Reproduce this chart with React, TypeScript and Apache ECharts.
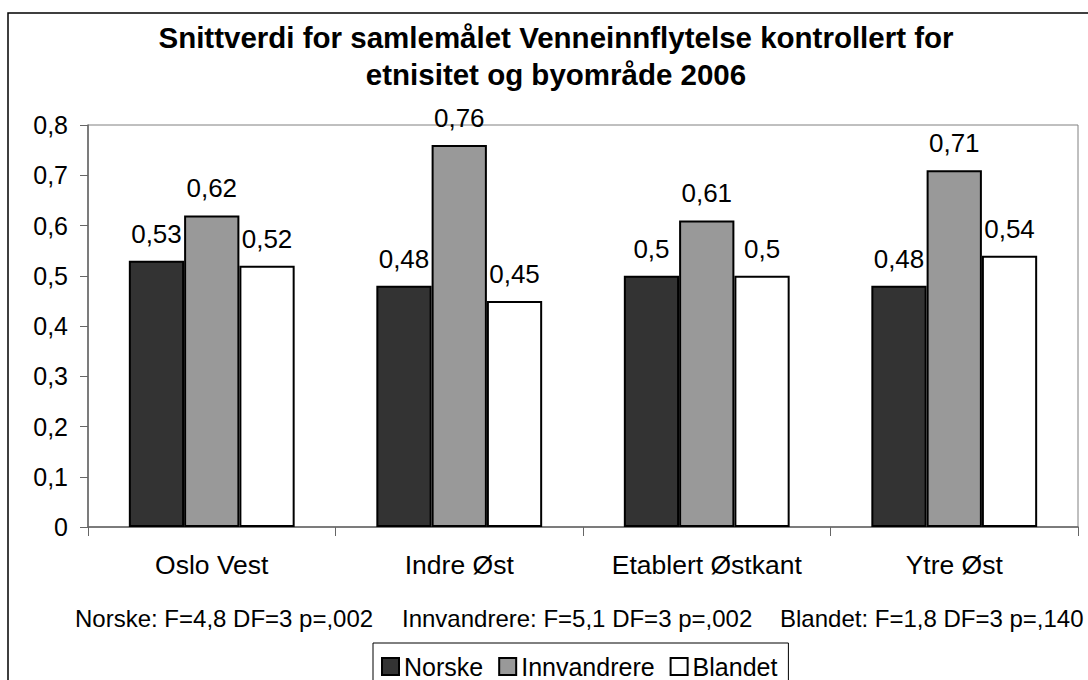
import React, { useEffect, useRef } from "react";
import * as echarts from "echarts";

const categories = ["Oslo Vest", "Indre Øst", "Etablert Østkant", "Ytre Øst"];
const seriesNames = ["Norske", "Innvandrere", "Blandet"];
const norske = [0.53, 0.48, 0.5, 0.48];
const innvandrere = [0.62, 0.76, 0.61, 0.71];
const blandet = [0.52, 0.45, 0.5, 0.54];
const seriesColors = ["#333333", "#999999", "#ffffff"];
const titleLines = [
  "Snittverdi for samlemålet Venneinnflytelse kontrollert for",
  "etnisitet og byområde 2006",
];
const footnotes = [
  "Norske: F=4,8 DF=3 p=,002",
  "Innvandrere: F=5,1 DF=3 p=,002",
  "Blandet: F=1,8 DF=3 p=,140",
];

const FONT = "'Liberation Sans', Arial, Helvetica, sans-serif";
const fmt = (v: number) => String(v).replace(".", ",");

export default function App() {
  const ref = useRef<HTMLDivElement>(null);
  useEffect(() => {
    if (!ref.current) return;
    const chart = echarts.init(ref.current, undefined, { renderer: "svg" });
    const seriesData = [norske, innvandrere, blandet];
    chart.setOption({
      animation: false,
      backgroundColor: "#ffffff",
      textStyle: { fontFamily: FONT, color: "#000" },
      title: {
        text: titleLines.join("\n"),
        left: 556,
        textAlign: "center",
        top: 19,
        padding: 0,
        textStyle: {
          fontFamily: FONT,
          fontSize: 29.5,
          fontWeight: "bold",
          color: "#000",
          lineHeight: 37,
        },
      },
      grid: {
        left: 88,
        right: 10,
        top: 125,
        bottom: 153,
        show: true,
        borderColor: "#808080",
        borderWidth: 1,
        backgroundColor: "transparent",
      },
      legend: {
        data: seriesNames,
        left: 373,
        top: 643,
        padding: [11, 11, 11, 8],
        itemWidth: 17,
        itemHeight: 17,
        itemGap: 15,
        icon: "rect",
        borderColor: "#000",
        borderWidth: 1,
        backgroundColor: "#fff",
        textStyle: { fontFamily: FONT, fontSize: 25, color: "#000" },
      },
      xAxis: {
        type: "category",
        data: categories,
        axisLine: { lineStyle: { color: "#666", width: 1.5 } },
        axisTick: { show: true, length: 9, lineStyle: { color: "#666" } },
        axisLabel: {
          fontFamily: FONT,
          fontSize: 26.5,
          color: "#000",
          margin: 24,
        },
        splitLine: { show: false },
      },
      yAxis: {
        type: "value",
        min: 0,
        max: 0.8,
        interval: 0.1,
        axisLine: { show: true, lineStyle: { color: "#666", width: 1.5 } },
        axisTick: { show: true, length: 8, lineStyle: { color: "#666" } },
        axisLabel: {
          fontFamily: FONT,
          fontSize: 25,
          color: "#000",
          margin: 20,
          formatter: (v: number) => fmt(Math.round(v * 10) / 10),
        },
        splitLine: { show: false },
      },
      series: seriesNames.map((name, i) => ({
        name,
        type: "bar",
        data: seriesData[i],
        barGap: "0%",
        barCategoryGap: "33%",
        itemStyle: {
          color: seriesColors[i],
          borderColor: "#000",
          borderWidth: 2,
        },
        label: {
          show: true,
          position: "top",
          distance: 14,
          fontFamily: FONT,
          fontSize: 26,
          color: "#000",
          formatter: (p: any) => fmt(p.value),
        },
      })),
      graphic: [
        {
          type: "rect",
          shape: { x: 8, y: 13, width: 1100, height: 700 },
          style: { fill: "none", stroke: "#000", lineWidth: 1.5 },
          silent: true,
          z: 100,
        },
        ...footnotes.map((t, i) => ({
          type: "text",
          x: [75, 402, 780][i],
          y: 618,
          style: {
            text: t,
            fontFamily: FONT,
            fontSize: 24,
            fill: "#000",
            textAlign: "left",
            textVerticalAlign: "middle",
          },
        })),
      ],
    });
    return () => chart.dispose();
  }, []);
  return (
    <div
      ref={ref}
      style={{ position: "absolute", left: 0, top: 0, width: 1088, height: 680 }}
    />
  );
}
